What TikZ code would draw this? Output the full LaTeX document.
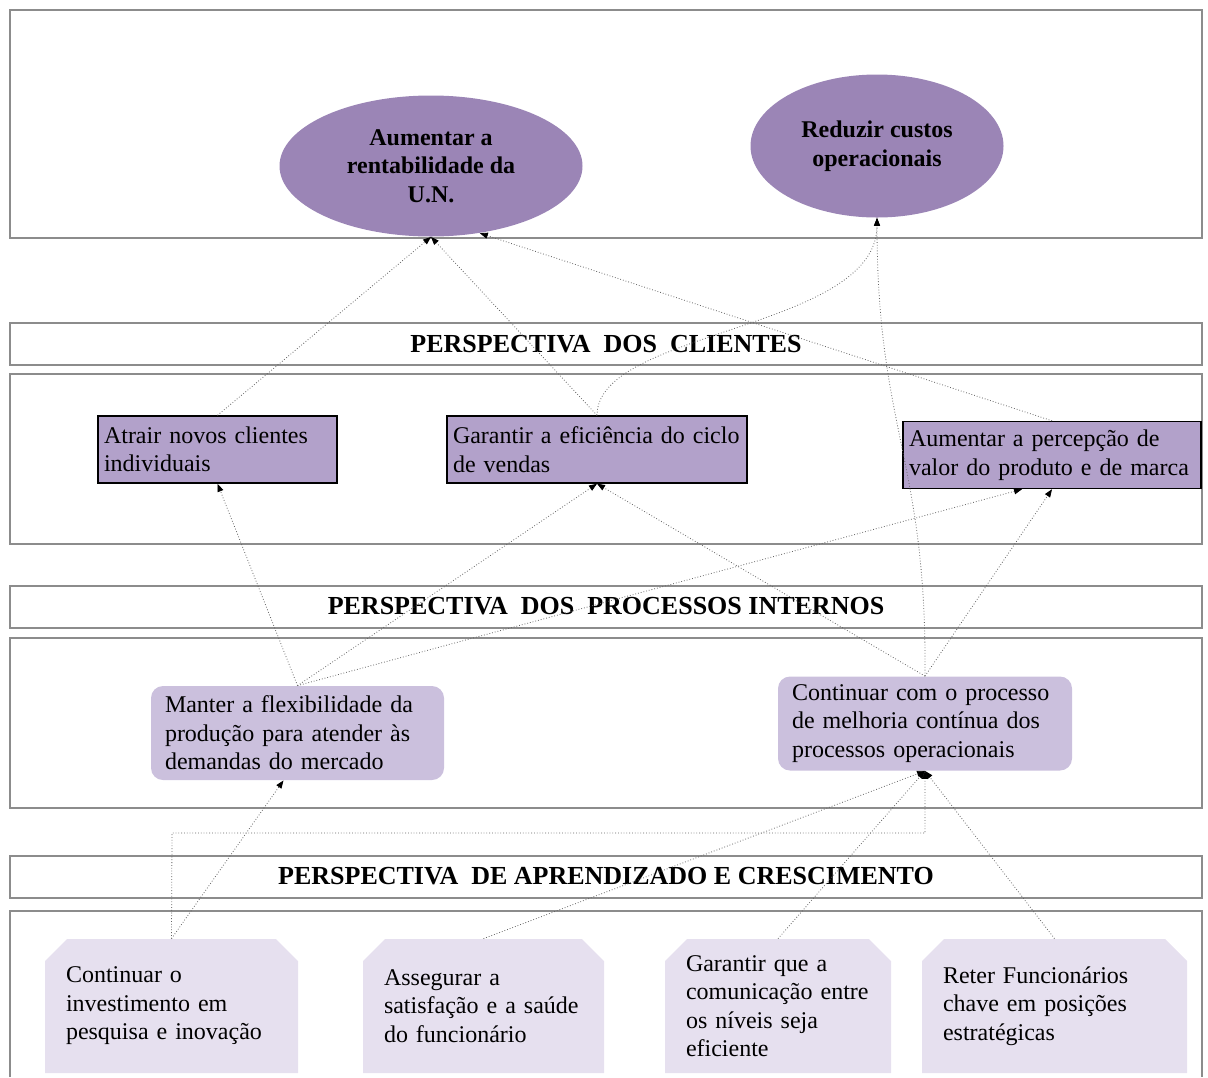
\documentclass[tikz,border=0pt]{standalone}
\usepackage{fontspec}
\setmainfont{Liberation Serif}
\usepackage{tikz}
\usetikzlibrary{shapes.geometric, arrows.meta}
\definecolor{frameColor}{RGB}{140,140,140}
\definecolor{goalColor}{RGB}{155,133,182}
\definecolor{clientColor}{RGB}{178,161,202}
\definecolor{processColor}{RGB}{203,192,221}
\definecolor{learnColor}{RGB}{230,224,239}
\definecolor{linkColor}{RGB}{100,100,100}
\newcommand{\bodyFont}{\fontsize{12}{14.25}\selectfont}
\tikzstyle{canvas} = [x = 0.5pt, y = -0.5pt]
\tikzstyle{frameStyle} = [draw=frameColor, line width=1pt]
\tikzstyle{bandStyle} = [frameStyle, fill=white, font=\fontsize{13}{15}\selectfont\bfseries, minimum width=596pt, minimum height=21pt, inner sep=0pt]
\tikzstyle{goalStyle} = [ellipse, fill=goalColor, font=\bodyFont\bfseries, align=center, inner sep=0pt]
\tikzstyle{clientStyle} = [draw=black, line width=0.7pt, fill=clientColor, font=\bodyFont, align=left, inner xsep=3pt, inner ysep=1pt, minimum height=33.5pt]
\tikzstyle{processStyle} = [fill=processColor, rounded corners=6pt, font=\bodyFont, align=left, inner xsep=7pt, minimum height=47pt]
\tikzstyle{learnText} = [font=\bodyFont, align=left, inner xsep=10.5pt, minimum height=67pt]
\tikzstyle{link} = [draw=linkColor, densely dotted, line width=0.4pt, -{Triangle[length=4pt, width=3pt, color=black]}]
\newcommand{\learnBox}[4]{
  \fill [learnColor] (#2,1073) -- (#2,961) -- (#2 + 22,939) -- (#3 - 22,939) -- (#3,961) -- (#3,1073) -- cycle;
  \pgfmathsetmacro{\learnWidth}{(#3 - #2) / 2 - 21}
  \node [learnText, text width=\learnWidth pt] (#1) at ({(#2 + #3) / 2},1006) {#4};
}

\begin{document}
\begin{tikzpicture}[canvas]
  \useasboundingbox (0,0) rectangle (1208,1077);
  \draw [frameStyle] (10,10) rectangle (1202,238);
  \draw [frameStyle] (10,374) rectangle (1202,544);
  \draw [frameStyle] (10,638) rectangle (1202,808);
  \draw [frameStyle] (10,1077) -- (10,911) -- (1202,911) -- (1202,1077);

  \node [bandStyle] (clientsBand) at (606,344) {PERSPECTIVA\ \ DOS\ \ CLIENTES};
  \node [bandStyle] (processBand) at (606,606.5) {PERSPECTIVA\ \ DOS\ \ PROCESSOS INTERNOS};
  \node [bandStyle] (learningBand) at (606,876.5) {PERSPECTIVA\ \ DE APRENDIZADO E CRESCIMENTO};

  \node [goalStyle, minimum width=151.5pt, minimum height=70.5pt] (profitGoal) at (431,166) {Aumentar a\\rentabilidade da\\U.N.};
  \node [goalStyle, minimum width=126.5pt, minimum height=71.5pt] (costGoal) at (877,146) {Reduzir custos\\operacionais};

  \node [clientStyle, text width=113.5pt] (attractClients) at (217.5,449.5) {Atrair novos clientes\\individuais};
  \node [clientStyle, text width=144pt] (salesCycle) at (597,449.5) {Garantir a eficiência do ciclo\\de vendas};
  \node [clientStyle, text width=143pt] (valuePerception) at (1052,455) {Aumentar a percepção de\\valor do produto e de marca};

  \node [processStyle, text width=132.5pt] (flexibleProduction) at (297.5,733) {Manter a flexibilidade da\\produção para atender às\\demandas do mercado};
  \node [processStyle, text width=133pt] (continuousImprovement) at (925,723.5) {Continuar com o processo\\de melhoria contínua dos\\processos operacionais};

  \learnBox{researchInvest}{45}{298}{Continuar o\\investimento em\\pesquisa e inovação}
  \learnBox{staffWellbeing}{363}{604}{Assegurar a\\satisfação e a saúde\\do funcionário}
  \learnBox{levelCommunication}{665}{891}{Garantir que a\\comunicação entre\\os níveis seja\\eficiente}
  \learnBox{keyStaff}{922}{1187}{Reter Funcionários\\chave em posições\\estratégicas}

  \draw [link] (attractClients.north) -- (profitGoal.south);
  \draw [link] (salesCycle.north) -- (profitGoal.south);
  \draw [link] (salesCycle.north) .. controls (597,330) and (877,330) .. (costGoal.south);
  \draw [link] (valuePerception.north) -- (profitGoal.-54);
  \draw [link] (continuousImprovement.north) .. controls (927,460) and (877,430) .. (costGoal.south);
  \draw [link] (flexibleProduction.north) -- (attractClients.south);
  \draw [link] (flexibleProduction.north) -- (salesCycle.south);
  \draw [link] (flexibleProduction.north) -- ([xshift=-15pt]valuePerception.south);
  \draw [link] (continuousImprovement.north) -- (salesCycle.south);
  \draw [link] (continuousImprovement.north) -- (valuePerception.south);
  \draw [link] (researchInvest.north) -- ([xshift=-7pt]flexibleProduction.south);
  \coordinate (researchElbow) at (172,833);
  \draw [link] (researchInvest.north) -- (researchElbow) -| (continuousImprovement.south);
  \draw [link] (staffWellbeing.north) -- (continuousImprovement.south);
  \draw [link] (levelCommunication.north) -- (continuousImprovement.south);
  \draw [link] (keyStaff.north) -- (continuousImprovement.south);
\end{tikzpicture}
\end{document}
